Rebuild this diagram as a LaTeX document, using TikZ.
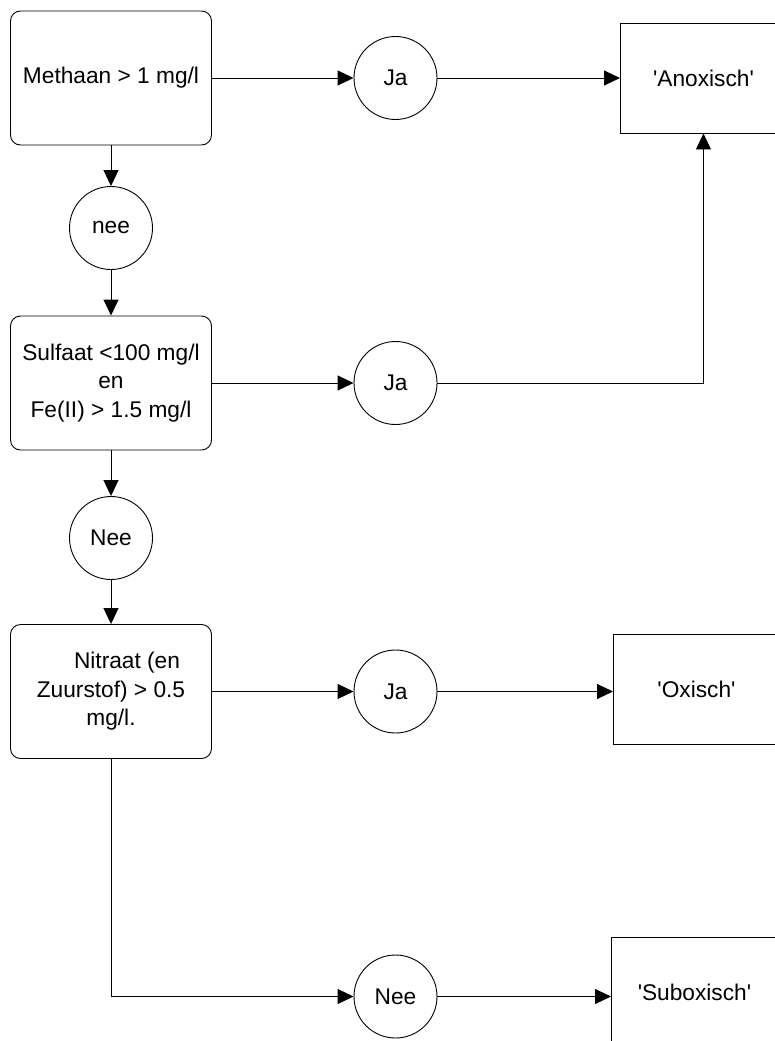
\documentclass[tikz,border=0pt]{standalone}
\usepackage{fontspec}
\setmainfont{Liberation Sans}
\usetikzlibrary{arrows.meta}
\tikzset{
  test/.style={draw, rounded corners=10pt, minimum width=201pt, minimum height=134pt, inner sep=0pt, align=center},
  answer/.style={draw, circle, minimum size=83pt, inner sep=0pt},
  result/.style={draw, anchor=west, minimum width=166pt, minimum height=110pt, inner sep=0pt},
  flow/.style={-{Triangle[length=16pt,width=15pt]}, line width=0.9pt},
}
\newcommand{\sq}{\textquotesingle}
\begin{document}
\begin{tikzpicture}[x=1pt,y=-1pt,line width=0.9pt,font=\fontsize{22.7}{28.5}\selectfont]
  \useasboundingbox (0,0) rectangle (774,1041);

  % tests
  \node[test] (methaan) at (111,78) {Methaan > 1 mg/l};
  \node[test] (sulfaat) at (111,383) {Sulfaat <100 mg/l\\en\\Fe(II) > 1.5 mg/l};
  \node[test] (nitraat) at (111,691.5) {\hspace*{32pt}Nitraat (en\\Zuurstof) > 0.5\\mg/l.};

  % answers
  \node[answer] (nee1) at (111,228) {nee};
  \node[answer] (nee2) at (111,538) {Nee};
  \node[answer] (ja1) at (395.5,78) {Ja};
  \node[answer] (ja2) at (395.5,383) {Ja};
  \node[answer] (ja3) at (395.5,691.5) {Ja};
  \node[answer] (nee3) at (395.5,996.5) {Nee};

  % results
  \node[result] (anox) at (620,78) {\sq Anoxisch\sq};
  \node[result] (oxisch) at (613,689) {\sq Oxisch\sq};
  \node[result] (subox) at (611,992) {\sq Suboxisch\sq};

  \draw[flow] (methaan) -- (ja1);
  \draw[flow] (ja1) -- (anox);
  \draw[flow] (methaan) -- (nee1);
  \draw[flow] (nee1) -- (sulfaat);
  \draw[flow] (sulfaat) -- (ja2);
  \draw[flow] (ja2) -| (anox);
  \draw[flow] (sulfaat) -- (nee2);
  \draw[flow] (nee2) -- (nitraat);
  \draw[flow] (nitraat) -- (ja3);
  \draw[flow] (ja3) -- (ja3 -| oxisch.west);
  \draw[flow] (nitraat) |- (nee3);
  \draw[flow] (nee3) -- (nee3 -| subox.west);
\end{tikzpicture}
\end{document}
